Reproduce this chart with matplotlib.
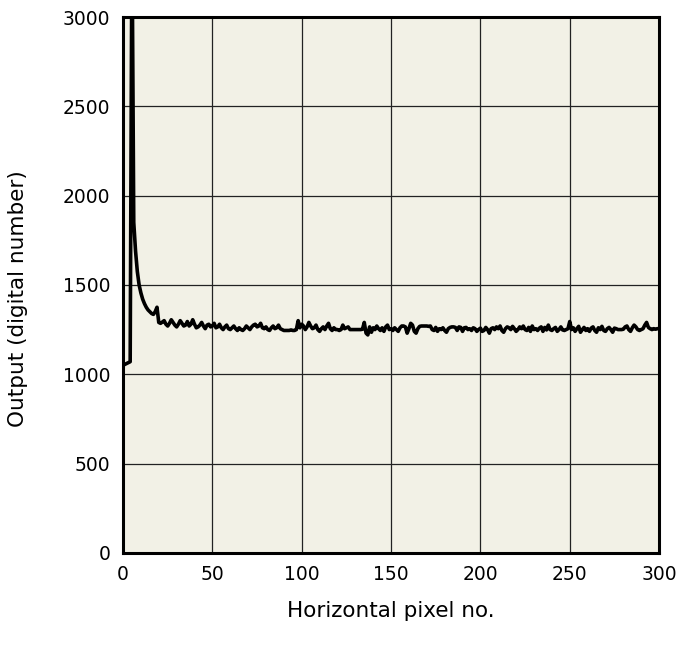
import numpy as np
import matplotlib.pyplot as plt

# Output per horizontal pixel (pixel 0 .. 300)
start = [1050, 1055, 1060, 1065, 1070, 3500, 1850, 1690, 1575, 1500,
         1455, 1420, 1395, 1375, 1360, 1350, 1340, 1335, 1350, 1375]
noise = [1290, 1285, 1292, 1300, 1280, 1270, 1285, 1305, 1290, 1275,
         1265, 1280, 1300, 1285, 1270, 1275, 1295, 1270, 1280, 1305,
         1280, 1260, 1265, 1275, 1290, 1270, 1255, 1275, 1280, 1265,
         1270, 1285, 1260, 1265, 1280, 1260, 1250, 1265, 1275, 1255,
         1250, 1260, 1270, 1255, 1245, 1260, 1250, 1245, 1255, 1270,
         1260, 1250, 1265, 1275, 1280, 1265, 1270, 1285, 1260, 1255,
         1265, 1250, 1245, 1260, 1270, 1255, 1260, 1275, 1255, 1250,
         1245, 1245, 1245, 1245, 1248, 1245, 1245, 1250, 1300, 1260,
         1280, 1270, 1250, 1265, 1290, 1270, 1255, 1260, 1275, 1250,
         1240, 1255, 1265, 1250, 1270, 1285, 1255, 1245, 1260, 1250,
         1250, 1245, 1250, 1275, 1255, 1260, 1265, 1250, 1250, 1250,
         1250, 1250, 1250, 1250, 1252, 1290, 1230, 1220, 1265, 1235,
         1260, 1250, 1270, 1255, 1245, 1260, 1240, 1265, 1275, 1250,
         1255, 1245, 1260, 1250, 1240, 1260, 1270, 1270, 1265, 1230,
         1255, 1285, 1275, 1240, 1230, 1255, 1268, 1270, 1270, 1270,
         1270, 1268, 1270, 1250, 1245, 1262, 1240, 1255, 1250, 1260,
         1245, 1235, 1255, 1262, 1265, 1265, 1262, 1245, 1265, 1262,
         1240, 1260, 1262, 1250, 1255, 1245, 1260, 1255, 1240, 1250,
         1258, 1240, 1245, 1262, 1250, 1230, 1255, 1260, 1250, 1265,
         1255, 1270, 1245, 1235, 1255, 1265, 1260, 1250, 1268, 1255,
         1240, 1250, 1265, 1255, 1270, 1250, 1245, 1262, 1240, 1270,
         1250, 1255, 1245, 1258, 1265, 1240, 1262, 1248, 1275, 1250,
         1245, 1255, 1262, 1240, 1250, 1265, 1248, 1245, 1250, 1255,
         1295, 1250, 1260, 1240, 1255, 1268, 1235, 1250, 1262, 1245,
         1255, 1240, 1258, 1265, 1245, 1235, 1260, 1250, 1268, 1245,
         1240, 1255, 1262, 1250, 1235, 1258, 1255, 1250, 1250, 1250,
         1252, 1265, 1270, 1250, 1240, 1260, 1275, 1265, 1250, 1245,
         1250, 1255, 1275, 1290, 1262, 1255, 1250, 1255, 1252, 1255,
         1255]
output = np.array(start + noise)
pixel = np.arange(len(output))

xticks = [0, 50, 100, 150, 200, 250, 300]
yticks = [0, 500, 1000, 1500, 2000, 2500, 3000]

fig = plt.figure(figsize=(6.76, 6.55), dpi=100)
ax = fig.add_axes([0.182, 0.156, 0.793, 0.818])
ax.set_facecolor('#f2f1e6')

ax.plot(pixel, output, color='black', linewidth=2.6, zorder=3)

ax.set_xlim(0, 300)
ax.set_ylim(0, 3000)
ax.set_xticks(xticks)
ax.set_yticks(yticks)
ax.grid(True, color='#222222', linewidth=0.9)
ax.tick_params(length=0, labelsize=13.5, pad=9)
for s in ax.spines.values():
    s.set_linewidth(2.2)

# labels sit a long way from the axes
ax.set_xlabel('Horizontal pixel no.', fontsize=15.5)
ax.set_ylabel('Output (digital number)', fontsize=15.5)
ax.xaxis.set_label_coords(0.5, -0.09)
ax.yaxis.set_label_coords(-0.177, 0.474)

plt.savefig('out.png', dpi=100)
